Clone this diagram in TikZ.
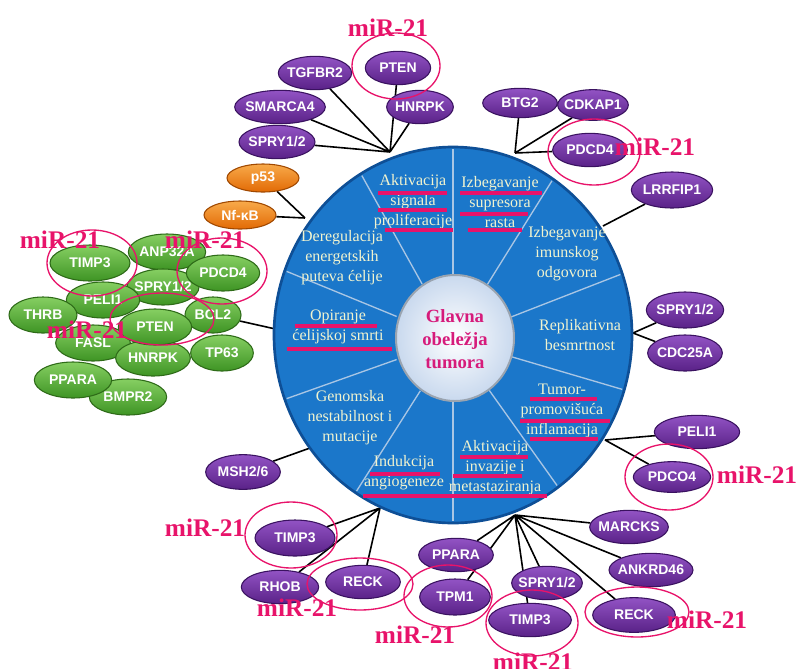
\documentclass[tikz,border=0pt]{standalone}
\usepackage{fontspec}
\setmainfont{Liberation Serif}
\setsansfont{Liberation Sans}
\usetikzlibrary{shapes.geometric,backgrounds}

\definecolor{wheelFill}{HTML}{1B77CA}
\definecolor{wheelEdge}{HTML}{0E4F96}
\definecolor{wheelLine}{HTML}{A9C6E4}
\definecolor{hubOuter}{HTML}{C9D9EE}
\definecolor{hubEdge}{HTML}{9AA4B0}
\definecolor{purpleTop}{HTML}{9253C4}
\definecolor{purpleBot}{HTML}{5A2288}
\definecolor{purpleEdge}{HTML}{3A1260}
\definecolor{greenTop}{HTML}{86CF62}
\definecolor{greenBot}{HTML}{3E9424}
\definecolor{greenEdge}{HTML}{2E6B18}
\definecolor{orangeTop}{HTML}{F8AA4A}
\definecolor{orangeBot}{HTML}{E26A05}
\definecolor{orangeEdge}{HTML}{A04800}
\definecolor{mirRed}{HTML}{E8136A}
\definecolor{titlePink}{HTML}{D61B7B}
\definecolor{sectorText}{HTML}{F0F3CF}

\tikzset{
  gene/.style={ellipse, draw=purpleEdge, line width=0.8pt, top color=purpleTop, bottom color=purpleBot,
    text=white, font=\sffamily\bfseries\fontsize{10.5}{11}\selectfont, inner xsep=-10pt, inner ysep=0.5pt,
    minimum width=56pt, minimum height=25pt},
  ggene/.style={gene, draw=greenEdge, top color=greenTop, bottom color=greenBot, minimum height=27pt},
  ogene/.style={gene, draw=orangeEdge, top color=orangeTop, bottom color=orangeBot, minimum height=21pt},
  link/.style={black, line width=1.2pt},
  mircirc/.style={draw=mirRed, line width=1pt},
  mirlbl/.style={text=mirRed, font=\bfseries\fontsize{19}{20}\selectfont, inner sep=0pt},
  uline/.style={mirRed, line width=2.3pt},
  sector/.style={text=sectorText, align=center, inner sep=0pt, font=\fontsize{12}{15}\selectfont}
}

\begin{document}
\begin{tikzpicture}[x=0.75pt,y=-0.75pt]
    \useasboundingbox (0,0) rectangle (802,668);

    % wheel
    \draw[fill=wheelFill, draw=wheelEdge, line width=2pt] (453,335) ellipse (179 and 188);
    \foreach \a in {90,121,160,200,237,270,306,343,19,56}
        \draw[wheelLine, line width=1pt] ({453+60*cos(\a)},{338-63*sin(\a)}) -- ({453+177*cos(\a)},{335-186*sin(\a)});
    \draw[inner color=white, outer color=hubOuter, draw=hubEdge, line width=1.5pt] (455,338) ellipse (59 and 63);
    \node[text=titlePink, align=center, font=\bfseries\fontsize{14}{17}\selectfont] (glavna) at (455,339) {Glavna\\obeležja\\tumora};

    \node[sector] (sProl) at (413,202) {Aktivacija\\signala\\proliferacije};
    \node[sector] (sSupr) at (500,202) {Izbegavanje\\supresora\\rasta};
    \node[sector] (sImun) at (567,254) {Izbegavanje\\imunskog\\odgovora};
    \node[sector] (sBesm) at (580,335) {Replikativna\\besmrtnost};
    \node[sector] (sInfl) at (562,411) {Tumor-\\promovišuća\\inflamacija};
    \node[sector] (sInv) at (495,468) {Aktivacija\\invazije i\\metastaziranja};
    \node[sector] (sAng) at (404,473) {Indukcija\\angiogeneze};
    \node[sector] (sGen) at (350,418) {Genomska\\nestabilnost i\\mutacije};
    \node[sector] (sSmrt) at (338,327) {Opiranje\\ćelijskoj smrti};
    \node[sector] (sEner) at (342,258) {Deregulacija\\energetskih\\puteva ćelije};

    \draw[uline] (378,193) -- (447,193);
    \draw[uline] (378,210) -- (447,210);
    \draw[uline] (385,230) -- (453,230);
    \draw[uline] (460,193) -- (542,193);
    \draw[uline] (460,214) -- (528,214);
    \draw[uline] (468,230) -- (522,230);
    \draw[uline] (295,326) -- (377,326);
    \draw[uline] (287,349) -- (392,349);
    \draw[uline] (370,474) -- (440,474);
    \draw[uline] (363,496) -- (547,496);
    \draw[uline] (460,457) -- (528,457);
    \draw[uline] (453,476) -- (522,476);
    \draw[uline] (530,399) -- (597,399);
    \draw[uline] (520,421) -- (610,421);
    \draw[uline] (530,439) -- (598,439);

    % end points on the wheel
    \coordinate (hubT) at (390,152);
    \coordinate (hubTR) at (515,153);
    \coordinate (hubImun) at (603,226);
    \coordinate (hubR) at (633,333);
    \coordinate (hubBR) at (605,440);
    \coordinate (hubB) at (515,515);
    \coordinate (hubBL) at (380,508);
    \coordinate (hubGen) at (310,448);
    \coordinate (hubEner) at (305,218);
    \coordinate (hubSmrt) at (280,330);

    % purple genes
    \node[gene, minimum width=55pt] (tgfbr) at (315,73) {TGFBR2};
    \node[gene, minimum width=49pt] (ptenT) at (398,68) {PTEN};
    \node[gene, minimum width=68pt] (smarca) at (280,107) {SMARCA4};
    \node[gene, minimum width=50pt] (hnrpkT) at (420,107) {HNRPK};
    \node[gene, minimum width=57pt] (spryT) at (277,142) {SPRY1/2};
    \node[gene, minimum height=22pt] (btg) at (520,103) {BTG2};
    \node[gene, minimum width=53pt, minimum height=23pt] (cdkap) at (593,105) {CDKAP1};
    \node[gene] (pdcdTR) at (590,150) {PDCD4};
    \node[gene, minimum width=61pt, minimum height=27pt] (lrrfip) at (672,190) {LRRFIP1};
    \node[gene, minimum width=58pt, minimum height=27pt] (spryR) at (685,310) {SPRY1/2};
    \node[gene, minimum height=27pt] (cdc) at (685,353) {CDC25A};
    \node[gene, minimum width=64pt] (peliR) at (697,432) {PELI1};
    \node[gene, minimum width=58pt, minimum height=23pt] (pdcdR) at (672,477) {PDCO4};
    \node[gene, minimum width=59pt] (marcks) at (629,527) {MARCKS};
    \node[gene, minimum width=63pt] (ankrd) at (651,570) {ANKRD46};
    \node[gene, minimum width=62pt, minimum height=26pt] (reckR) at (634,615) {RECK};
    \node[gene, minimum width=53pt] (spryB) at (547,583) {SPRY1/2};
    \node[gene, minimum width=62pt] (timpB) at (530,620) {TIMP3};
    \node[gene] (ppara) at (456,555) {PPARA};
    \node[gene, minimum width=53pt, minimum height=27pt] (tpm) at (455,597) {TPM1};
    \node[gene, minimum height=26pt] (msh) at (243,472) {MSH2/6};
    \node[gene, minimum width=60pt, minimum height=27pt] (timpL) at (295,538) {TIMP3};
    \node[gene, minimum width=58pt] (rhob) at (280,587) {RHOB};
    \node[gene] (reckL) at (363,582) {RECK};

    % orange
    \node[ogene, minimum width=54pt] (p53) at (263,178) {p53};
    \node[ogene, minimum width=54pt] (nfkb) at (240,215) {Nf-κB};

    % green cluster
    \node[ggene, minimum width=58pt] (anp) at (167,252) {ANP32A};
    \node[ggene, minimum width=42pt] (bcl) at (213,315) {BCL2};
    \node[ggene, minimum width=54pt] (spryG) at (163,287) {SPRY1/2};
    \node[ggene, minimum width=55pt] (peliG) at (103,300) {PELI1};
    \node[ggene, minimum width=51pt] (thrb) at (43,315) {THRB};
    \node[ggene] (fasl) at (93,343) {FASL};
    \node[ggene] (hnrpkG) at (153,358) {HNRPK};
    \node[ggene, minimum width=47pt] (tp) at (222,353) {TP63};
    \node[ggene, minimum width=58pt] (bmpr) at (128,397) {BMPR2};
    \node[ggene, minimum width=58pt] (pparaG) at (73,380) {PPARA};
    \node[ggene, minimum width=60pt] (timpG) at (90,263) {TIMP3};
    \node[ggene, minimum width=55pt] (pdcdG) at (223,273) {PDCD4};
    \node[ggene, minimum width=55pt] (ptenG) at (155,327) {PTEN};

    \begin{scope}[on background layer]
        \fill[white] (0,0) rectangle (802,668);
        \draw[link] (hubT) -- (tgfbr) (hubT) -- (ptenT) (hubT) -- (smarca) (hubT) -- (hnrpkT) (hubT) -- (spryT);
        \draw[link] (hubTR) -- (btg) (hubTR) -- (cdkap) (hubTR) -- (pdcdTR);
        \draw[link] (hubImun) -- (lrrfip);
        \draw[link] (hubR) -- (spryR) (hubR) -- (cdc);
        \draw[link] (hubBR) -- (peliR) (hubBR) -- (pdcdR);
        \draw[link] (hubB) -- (marcks) (hubB) -- (ankrd) (hubB) -- (reckR) (hubB) -- (spryB)
            (hubB) -- (timpB) (hubB) -- (tpm) (hubB) -- (ppara);
        \draw[link] (hubBL) -- (timpL) (hubBL) -- (rhob) (hubBL) -- (reckL);
        \draw[link] (hubGen) -- (msh);
        \draw[link] (hubEner) -- (p53) (hubEner) -- (nfkb);
        \draw[link] (hubSmrt) -- (bcl);
    \end{scope}

    % miR-21 marks
    \draw[mircirc] (396,66) ellipse (44 and 33);
    \draw[mircirc] (594,152) ellipse (46 and 33);
    \draw[mircirc] (669,477) ellipse (44 and 33);
    \draw[mircirc] (637,612) ellipse (52 and 25);
    \draw[mircirc] (532,623) ellipse (46 and 33);
    \draw[mircirc] (291,535) ellipse (46 and 33);
    \draw[mircirc] (360,584) ellipse (53 and 26);
    \draw[mircirc] (448,596) ellipse (44 and 31);
    \draw[mircirc] (92,263) ellipse (45 and 33);
    \draw[mircirc] (222,271) ellipse (45 and 33);
    \draw[mircirc] (162,319) ellipse (52 and 26);

    \node[mirlbl] (mirT) at (388,28) {miR-21};
    \node[mirlbl] (mirTR) at (655,147) {miR-21};
    \node[mirlbl] (mirBR) at (757,475) {miR-21};
    \node[mirlbl] (mirReckR) at (707,620) {miR-21};
    \node[mirlbl] (mirTimpB) at (533,662) {miR-21};
    \node[mirlbl] (mirTimpL) at (205,528) {miR-21};
    \node[mirlbl] (mirReckL) at (297,608) {miR-21};
    \node[mirlbl] (mirTpm) at (415,635) {miR-21};
    \node[mirlbl] (mirTimpG) at (60,240) {miR-21};
    \node[mirlbl] (mirPdcdG) at (205,240) {miR-21};
    \node[mirlbl] (mirPtenG) at (87,330) {miR-21};
\end{tikzpicture}
\end{document}
